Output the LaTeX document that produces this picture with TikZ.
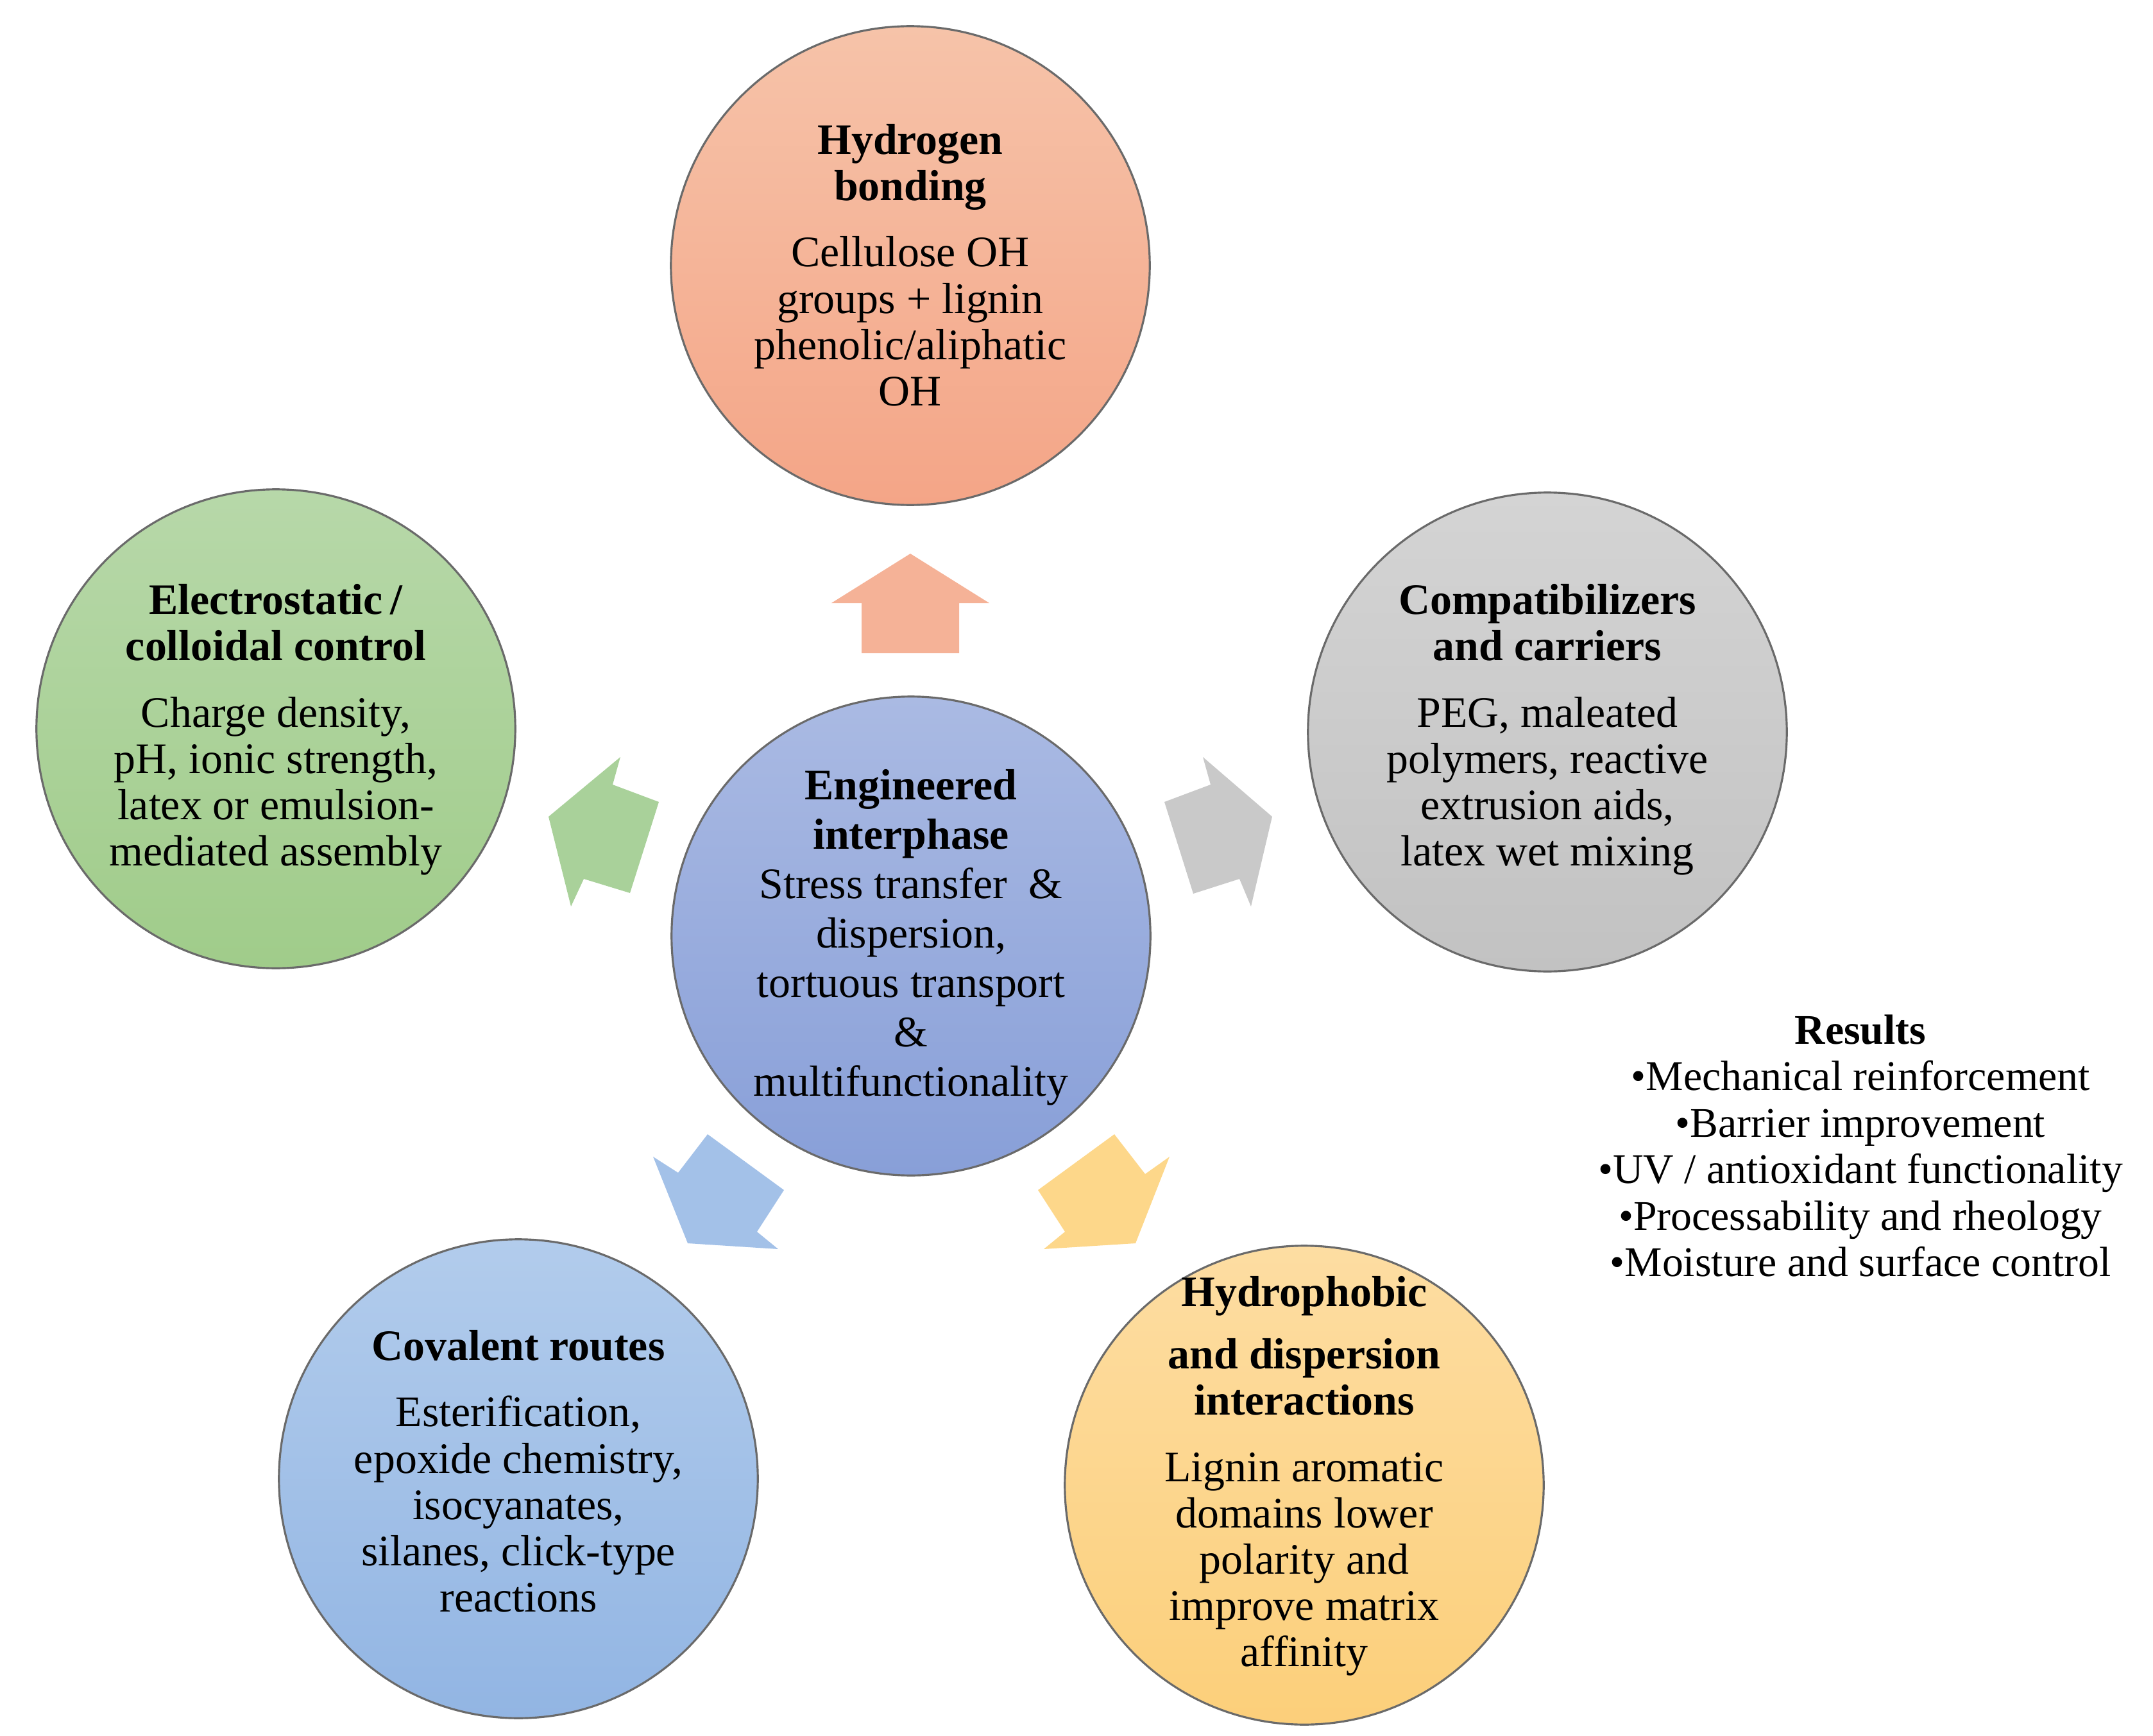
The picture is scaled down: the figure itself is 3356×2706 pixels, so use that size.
\documentclass[tikz,border=0pt]{standalone}
\usepackage{fontspec}
\setmainfont{Liberation Serif}
\definecolor{topA}{HTML}{F6C3A9}
\definecolor{topB}{HTML}{F4A587}
\definecolor{leftA}{HTML}{B7D8A9}
\definecolor{leftB}{HTML}{A0CC8A}
\definecolor{rightA}{HTML}{D4D4D4}
\definecolor{rightB}{HTML}{C2C2C2}
\definecolor{cenA}{HTML}{AABAE3}
\definecolor{cenB}{HTML}{889FD8}
\definecolor{blA}{HTML}{B2CCEC}
\definecolor{blB}{HTML}{92B5E3}
\definecolor{brA}{HTML}{FDDDA2}
\definecolor{brB}{HTML}{FCCF7A}
\definecolor{arrO}{HTML}{F5B297}
\definecolor{arrG}{HTML}{A9D19A}
\definecolor{arrGr}{HTML}{C9C9C9}
\definecolor{arrB}{HTML}{A3C1E8}
\definecolor{arrY}{HTML}{FDD78A}
\definecolor{rim}{HTML}{6A6A6A}
\tikzset{
  bubble/.style={circle, draw=rim, line width=0.9pt, minimum size=7.46cm, inner sep=0pt},
  txt/.style={align=center, font=\fontsize{19.3}{20.5}\selectfont, text=black, inner sep=0pt},
  blockarrow/.style={draw=none}
}
\begin{document}
\begin{tikzpicture}[x=0.01cm,y=-0.01cm]
\useasboundingbox (0,0) rectangle (3356,2706);
% circles
\node[bubble, top color=topA, bottom color=topB] (top) at (1419,414) {};
\node[bubble, top color=leftA, bottom color=leftB] (left) at (430,1136) {};
\node[bubble, top color=rightA, bottom color=rightB] (right) at (2412,1141) {};
\node[bubble, top color=cenA, bottom color=cenB] (center) at (1420,1459) {};
\node[bubble, top color=blA, bottom color=blB] (bl) at (808,2305) {};
\node[bubble, top color=brA, bottom color=brB] (br) at (2033,2315) {};
% arrows
\fill[arrO] (1419,863) -- (1542,940) -- (1495,940) -- (1495,1018) -- (1343,1018) -- (1343,940) -- (1296,940) -- cycle;
\fill[arrG] (855,1273) -- (967,1180) -- (955,1223) -- (1027,1250) -- (982,1392) -- (910,1370) -- (890,1413) -- cycle;
\fill[arrGr] (1983,1273) -- (1875,1180) -- (1887,1223) -- (1815,1250) -- (1860,1393) -- (1932,1370) -- (1950,1413) -- cycle;
\fill[arrB] (1072,1938) -- (1018,1803) -- (1057,1828) -- (1103,1768) -- (1222,1855) -- (1180,1920) -- (1213,1947) -- cycle;
\fill[arrY] (1770,1938) -- (1823,1803) -- (1785,1830) -- (1737,1768) -- (1618,1855) -- (1660,1920) -- (1627,1947) -- cycle;
% texts
\node[txt] (toptxt) at (1419,413) {\textbf{Hydrogen}\\\textbf{bonding}\\[9pt]Cellulose OH\\groups + lignin\\phenolic/aliphatic\\OH};
\node[txt] (lefttxt) at (430,1137) {\textbf{Electrostatic\,/}\\\textbf{colloidal control}\\[9pt]Charge density,\\pH, ionic strength,\\latex or emulsion-\\mediated assembly};
\node[txt, font=\fontsize{19.3}{21.9}\selectfont] (centxt) at (1420,1461) {\textbf{Engineered}\\\textbf{interphase}\\Stress transfer~~\&\\dispersion,\\tortuous transport\\\&\\multifunctionality};
\node[txt] (righttxt) at (2412,1137) {\textbf{Compatibilizers}\\\textbf{and carriers}\\[9pt]PEG, maleated\\polymers, reactive\\extrusion aids,\\latex wet mixing};
\node[txt] (bltxt) at (808,2293) {\textbf{Covalent routes}\\[9pt]Esterification,\\epoxide chemistry,\\isocyanates,\\silanes, click-type\\reactions};
\node[txt] (brtxt) at (2033,2301) {\textbf{Hydrophobic}\\[7pt]\textbf{and dispersion}\\\textbf{interactions}\\[9pt]Lignin aromatic\\domains lower\\polarity and\\improve matrix\\affinity};
\node[txt, font=\fontsize{18.7}{20.6}\selectfont] (results) at (2900,1786) {\textbf{Results}\\•Mechanical reinforcement\\•Barrier improvement\\•UV / antioxidant functionality\\•Processability and rheology\\•Moisture and surface control};
\end{tikzpicture}
\end{document}
